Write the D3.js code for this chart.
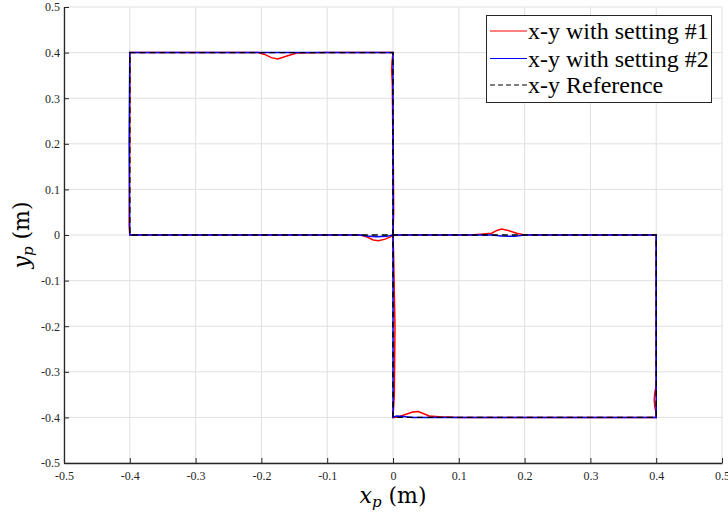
<!DOCTYPE html>
<html><head><meta charset="utf-8">
<script src="https://cdn.jsdelivr.net/npm/d3@7"></script>
<style>body{margin:0;background:#fff}svg{display:block}</style>
</head><body>
<svg id="c" width="728" height="515"></svg>
<script>
const xTicks = [-0.5,-0.4,-0.3,-0.2,-0.1,0,0.1,0.2,0.3,0.4,0.5];
const yTicks = [-0.5,-0.4,-0.3,-0.2,-0.1,0,0.1,0.2,0.3,0.4,0.5];
const tickLabels = ["-0.5","-0.4","-0.3","-0.2","-0.1","0","0.1","0.2","0.3","0.4","0.5"];
const legendLabels = ["x-y with setting #1","x-y with setting #2","x-y Reference"];

const refX = [0,0,-0.4,-0.4,0,0.4,0.4,0,0];
const refY = [0,0.4,0.4,0,0,0,-0.4,-0.4,0];

const s1X = [0,0.001,0.0005,-0.0005,-0.001,-0.002,-0.0015,0,-0.1,-0.146,-0.16,-0.175,-0.185,-0.195,-0.205,-0.4,-0.4,-0.401,-0.4,-0.05,-0.04,-0.03,-0.022,-0.012,-0.004,0,0.12,0.15,0.158,0.165,0.175,0.188,0.2,0.4,0.4,0.398,0.397,0.398,0.4,0.4,0.1,0.07,0.055,0.045,0.038,0.03,0.02,0.01,0.002,0,0.002,0.003,0.001,0];
const s1Y = [0,0.05,0.15,0.25,0.33,0.36,0.38,0.4,0.4,0.399,0.393,0.386,0.389,0.396,0.4,0.4,0.2,0.02,0,0,-0.004,-0.011,-0.0125,-0.009,-0.004,0,0,0.004,0.01,0.013,0.01,0.004,0,0,-0.33,-0.345,-0.362,-0.378,-0.39,-0.4,-0.4,-0.3985,-0.397,-0.391,-0.387,-0.388,-0.393,-0.398,-0.4,-0.4,-0.35,-0.2,-0.05,0];

const s2X = [0,0,0,-0.4,-0.401,-0.4,-0.05,-0.04,-0.025,-0.01,0,0.15,0.165,0.185,0.2,0.4,0.4,0.03,0.015,0.005,0,0];
const s2Y = [0,0.2,0.4,0.4,0.2,0,0,-0.002,-0.004,-0.003,0,0,-0.002,-0.003,0,0,-0.4,-0.4,-0.398,-0.397,-0.4,0];

const svg = d3.select("#c");
const L = 64, R = 722, T = 7, B = 463;
const x = d3.scaleLinear().domain([-0.5,0.5]).range([L,R]);
const y = d3.scaleLinear().domain([-0.5,0.5]).range([B,T]);

const g = svg.append("g");
g.selectAll("line.vx").data(xTicks).enter().append("line")
  .attr("x1",d=>x(d)).attr("x2",d=>x(d)).attr("y1",T).attr("y2",B)
  .attr("stroke","#e0e0e0").attr("stroke-width",1);
g.selectAll("line.hy").data(yTicks).enter().append("line")
  .attr("y1",d=>y(d)).attr("y2",d=>y(d)).attr("x1",L).attr("x2",R)
  .attr("stroke","#e0e0e0").attr("stroke-width",1);

svg.append("clipPath").attr("id","clip").append("rect").attr("x",L).attr("y",T).attr("width",R-L).attr("height",B-T);
const line = d3.line().x(d=>x(d[0])).y(d=>y(d[1]));
const plot = svg.append("g").attr("clip-path","url(#clip)");
plot.append("path").attr("d",line(s1X.map((v,i)=>[v,s1Y[i]]))).attr("fill","none").attr("stroke","#ff0000").attr("stroke-width",1.5);
plot.append("path").attr("d",line(s2X.map((v,i)=>[v,s2Y[i]]))).attr("fill","none").attr("stroke","#0000ff").attr("stroke-width",1.5);
plot.append("path").attr("d",line(refX.map((v,i)=>[v,refY[i]]))).attr("fill","none").attr("stroke","#000").attr("stroke-width",1.4).attr("stroke-dasharray","6,4");

const xAxis = d3.axisBottom(x).tickValues(xTicks).tickFormat(d=>tickLabels[xTicks.indexOf(d)]).tickSizeInner(-5).tickSizeOuter(0).tickPadding(8);
const yAxis = d3.axisLeft(y).tickValues(yTicks).tickFormat(d=>tickLabels[yTicks.indexOf(d)]).tickSizeInner(-5).tickSizeOuter(0).tickPadding(4);
const ax = svg.append("g").attr("transform",`translate(0,${B})`).call(xAxis);
const ay = svg.append("g").attr("transform",`translate(${L},0)`).call(yAxis);
[ax,ay].forEach(a=>{
  a.attr("font-family","Liberation Serif");
  a.select(".domain").attr("stroke","#262626").attr("stroke-width",1.3);
  a.selectAll(".tick line").attr("stroke","#262626").attr("stroke-width",1);
  a.selectAll(".tick text").attr("fill","#262626").attr("font-family","Liberation Serif").style("font-size","12px");
});

const xl = svg.append("text").attr("font-family","DejaVu Serif").attr("x",393).attr("y",503).attr("text-anchor","middle")
  .attr("font-size",22).attr("fill","#000");
xl.append("tspan").attr("font-style","italic").text("x");
xl.append("tspan").attr("font-style","italic").attr("font-size",15).attr("dy",4).text("p");
xl.append("tspan").attr("dy",-4).text(" (m)");
const yl = svg.append("text").attr("font-family","DejaVu Serif").attr("transform","translate(29,235) rotate(-90)").attr("text-anchor","middle")
  .attr("font-size",22).attr("fill","#000");
yl.append("tspan").attr("font-style","italic").text("y");
yl.append("tspan").attr("font-style","italic").attr("font-size",15).attr("dy",4).text("p");
yl.append("tspan").attr("dy",-4).text(" (m)");

const lg = svg.append("g");
lg.append("rect").attr("x",486.5).attr("y",15.5).attr("width",225).attr("height",87)
  .attr("fill","#fff").attr("stroke","#262626").attr("stroke-width",1);
const colors = ["#ff0000","#0000ff","#000"];
const rowsY = [31,58.5,85];
legendLabels.forEach((t,i)=>{
  lg.append("line").attr("x1",490).attr("x2",527).attr("y1",rowsY[i]).attr("y2",rowsY[i])
    .attr("stroke",colors[i]).attr("stroke-width",1.1).attr("stroke-dasharray",i===2?"5,3":null);
  lg.append("text").attr("font-family","Liberation Serif").attr("x",528).attr("y",rowsY[i]+8)
    .attr("font-size",24).attr("fill","#000").text(t);
});
</script>
</body></html>
